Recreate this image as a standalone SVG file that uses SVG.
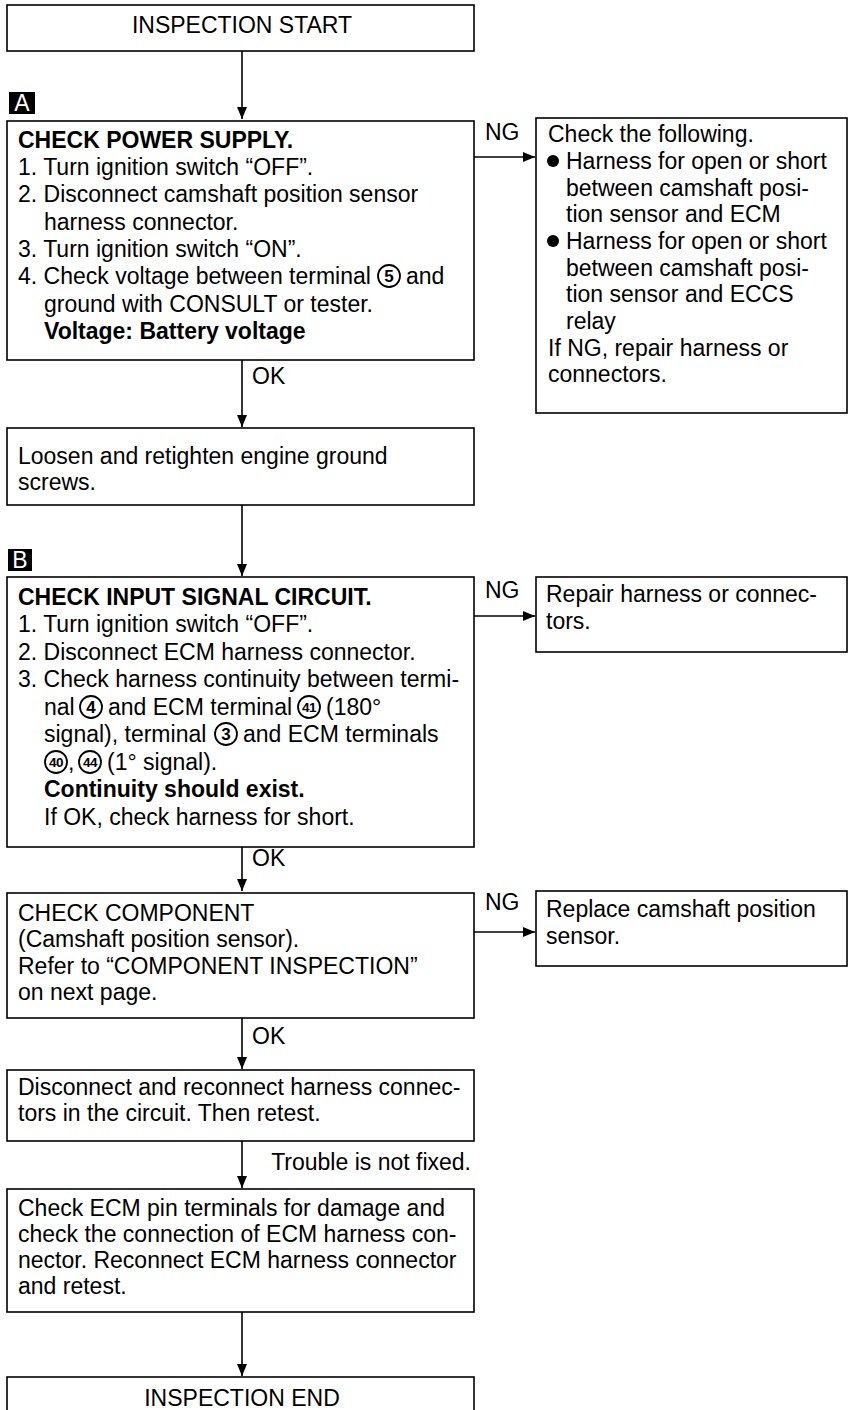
<svg xmlns="http://www.w3.org/2000/svg" width="849" height="1410" viewBox="0 0 849 1410">
<style>
.bg{fill:#fff}
.box{fill:#fff;stroke:#000;stroke-width:1.6}
.t{font-family:"Liberation Sans",Arial,Helvetica,sans-serif;font-size:23px;fill:#000}
.b{font-weight:bold}
.c{text-anchor:middle}
.edge{fill:none;stroke:#000;stroke-width:1.6;marker-end:url(#ah)}
.badge{fill:#000}
.bt{font-family:"Liberation Sans",Arial,sans-serif;font-size:23px;fill:#fff;text-anchor:middle}
.dot{fill:#000}
.cir{fill:none;stroke:#000;stroke-width:1.8}
.n1{font-family:"Liberation Sans",Arial,sans-serif;font-size:17px;font-weight:bold;text-anchor:middle;fill:#000}
.n2{font-family:"Liberation Sans",Arial,sans-serif;font-size:13.5px;font-weight:bold;text-anchor:middle;fill:#000;letter-spacing:-0.6px}
</style>
<defs>
<marker id="ah" viewBox="0 0 12 10" refX="12" refY="5" markerWidth="12" markerHeight="10" markerUnits="userSpaceOnUse" orient="auto">
<path d="M0,0 L12,5 L0,10 z" fill="#000"/>
</marker>
</defs>
<rect class="bg" x="0" y="0" width="849" height="1410"/>

<g id="connectors">
<path class="edge" d="M242,51 V119"/>
<path class="edge" d="M474,157 H535"/>
<path class="edge" d="M242,360 V427"/>
<path class="edge" d="M242,505 V576"/>
<path class="edge" d="M474,616 H535"/>
<path class="edge" d="M242,847 V891"/>
<path class="edge" d="M474,932 H535"/>
<path class="edge" d="M242,1018 V1069"/>
<path class="edge" d="M242,1141 V1188"/>
<path class="edge" d="M242,1312 V1376"/>
<text class="t" x="485" y="140">NG</text>
<text class="t" x="252" y="384">OK</text>
<text class="t" x="485" y="598">NG</text>
<text class="t" x="252" y="866">OK</text>
<text class="t" x="485" y="910">NG</text>
<text class="t" x="252" y="1044">OK</text>
<text class="t" x="471" y="1170" text-anchor="end">Trouble is not fixed.</text>
</g>

<g id="start">
<rect class="box" x="7" y="5" width="467" height="46"/>
<text class="t c" x="242" y="33">INSPECTION START</text>
</g>

<g id="badgeA">
<rect class="badge" x="9" y="92" width="26" height="22"/>
<text class="bt" x="22" y="111">A</text>
</g>

<g id="checkPower">
<rect class="box" x="7" y="121" width="467" height="239"/>
<text class="t b" x="18" y="148">CHECK POWER SUPPLY.</text>
<text class="t" x="18" y="175">1. Turn ignition switch “OFF”.</text>
<text class="t" x="18" y="202">2. Disconnect camshaft position sensor</text>
<text class="t" x="44" y="230">harness connector.</text>
<text class="t" x="18" y="257">3. Turn ignition switch “ON”.</text>
<text class="t" x="18" y="284">4. Check voltage between terminal</text>
<circle class="cir" cx="389" cy="276" r="11"/>
<text class="n1" x="389" y="282">5</text>
<text class="t" x="406" y="284">and</text>
<text class="t" x="44" y="312">ground with CONSULT or tester.</text>
<text class="t b" x="44" y="339">Voltage: Battery voltage</text>
</g>

<g id="checkFollowing">
<rect class="box" x="536" y="118" width="311" height="295"/>
<text class="t" x="548" y="142">Check the following.</text>
<circle class="dot" cx="553" cy="161" r="6"/>
<text class="t" x="566" y="169">Harness for open or short</text>
<text class="t" x="566" y="196">between camshaft posi-</text>
<text class="t" x="566" y="222">tion sensor and ECM</text>
<circle class="dot" cx="553" cy="241" r="6"/>
<text class="t" x="566" y="249">Harness for open or short</text>
<text class="t" x="566" y="276">between camshaft posi-</text>
<text class="t" x="566" y="302">tion sensor and ECCS</text>
<text class="t" x="566" y="329">relay</text>
<text class="t" x="548" y="356">If NG, repair harness or</text>
<text class="t" x="548" y="382">connectors.</text>
</g>

<g id="loosen">
<rect class="box" x="7" y="428" width="467" height="77"/>
<text class="t" x="18" y="464">Loosen and retighten engine ground</text>
<text class="t" x="18" y="490">screws.</text>
</g>

<g id="badgeB">
<rect class="badge" x="8" y="549" width="24" height="22"/>
<text class="bt" x="20" y="568">B</text>
</g>

<g id="checkInput">
<rect class="box" x="7" y="577" width="467" height="270"/>
<text class="t b" x="18" y="605">CHECK INPUT SIGNAL CIRCUIT.</text>
<text class="t" x="18" y="632">1. Turn ignition switch “OFF”.</text>
<text class="t" x="18" y="660">2. Disconnect ECM harness connector.</text>
<text class="t" x="18" y="687">3. Check harness continuity between termi-</text>
<text class="t" x="44" y="715">nal</text>
<circle class="cir" cx="91" cy="707" r="11"/>
<text class="n1" x="91" y="713">4</text>
<text class="t" x="108" y="715">and ECM terminal</text>
<circle class="cir" cx="309" cy="707" r="11"/>
<text class="n2" x="309" y="712">41</text>
<text class="t" x="326" y="715">(180°</text>
<text class="t" x="44" y="742">signal), terminal</text>
<circle class="cir" cx="226" cy="734" r="11"/>
<text class="n1" x="226" y="740">3</text>
<text class="t" x="243" y="742">and ECM terminals</text>
<circle class="cir" cx="56" cy="762" r="11"/>
<text class="n2" x="56" y="767">40</text>
<text class="t" x="68" y="770">,</text>
<circle class="cir" cx="90" cy="762" r="11"/>
<text class="n2" x="90" y="767">44</text>
<text class="t" x="107" y="770">(1° signal).</text>
<text class="t b" x="44" y="797">Continuity should exist.</text>
<text class="t" x="44" y="825">If OK, check harness for short.</text>
</g>

<g id="repairHarness">
<rect class="box" x="536" y="577" width="311" height="75"/>
<text class="t" x="546" y="602">Repair harness or connec-</text>
<text class="t" x="546" y="629">tors.</text>
</g>

<g id="checkComponent">
<rect class="box" x="7" y="893" width="467" height="125"/>
<text class="t" x="18" y="921">CHECK COMPONENT</text>
<text class="t" x="18" y="947">(Camshaft position sensor).</text>
<text class="t" x="18" y="974">Refer to “COMPONENT INSPECTION”</text>
<text class="t" x="18" y="1000">on next page.</text>
</g>

<g id="replaceSensor">
<rect class="box" x="536" y="891" width="311" height="75"/>
<text class="t" x="546" y="917">Replace camshaft position</text>
<text class="t" x="546" y="944">sensor.</text>
</g>

<g id="reconnect">
<rect class="box" x="7" y="1070" width="467" height="71"/>
<text class="t" x="18" y="1095">Disconnect and reconnect harness connec-</text>
<text class="t" x="18" y="1121">tors in the circuit. Then retest.</text>
</g>

<g id="checkPins">
<rect class="box" x="7" y="1189" width="467" height="123"/>
<text class="t" x="18" y="1216">Check ECM pin terminals for damage and</text>
<text class="t" x="18" y="1242">check the connection of ECM harness con-</text>
<text class="t" x="18" y="1268">nector. Reconnect ECM harness connector</text>
<text class="t" x="18" y="1294">and retest.</text>
</g>

<g id="end">
<rect class="box" x="7" y="1377" width="467" height="60"/>
<text class="t c" x="242" y="1406">INSPECTION END</text>
</g>
</svg>
